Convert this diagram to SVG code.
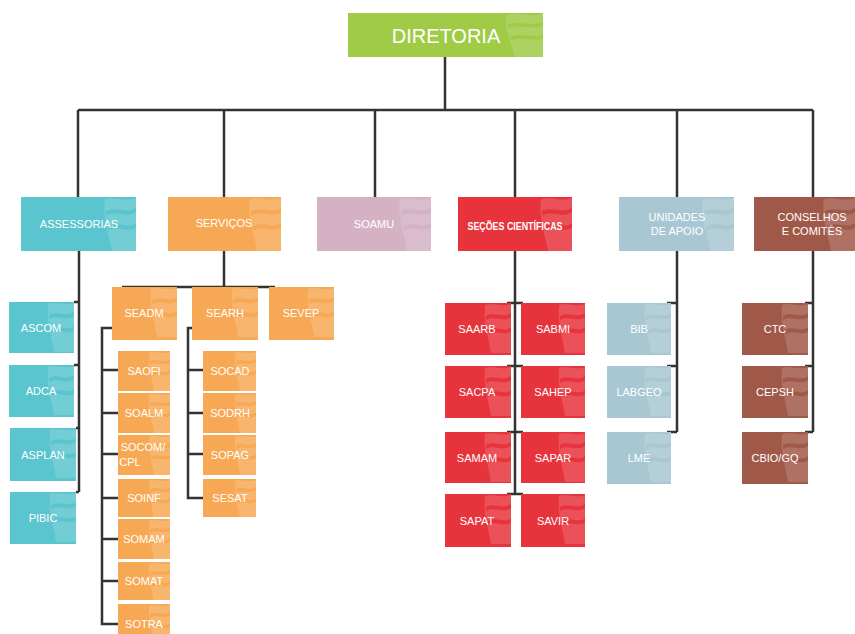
<svg xmlns="http://www.w3.org/2000/svg" xmlns:xlink="http://www.w3.org/1999/xlink" width="855" height="634" viewBox="0 0 855 634">
<style>
.t{font-family:"Liberation Sans","DejaVu Sans",sans-serif;font-size:11px;fill:#fff;text-anchor:middle;dominant-baseline:central}
.big{font-size:20px}
.ln{stroke:#333;stroke-width:2.5;fill:none}
.w{fill:#fff;opacity:0.15;fill-rule:evenodd}
.teal{fill:#5ac5ce}.org{fill:#f7a854}.mau{fill:#d4b2c3}.red{fill:#e7333b}.lb{fill:#a8c7d3}.br{fill:#a05949}.gr{fill:#9fcb46}
</style>
<defs>
<path id="wave" d="M-26 2 C-18 -1 -9 5 0 1 L0 50 L-20 50 C-22 36 -28 20 -26 2 Z M-25 13 C-16 8 -8 16 0 10 L0 14 C-8 20 -16 12 -25 17 Z M-23 27 C-14 22 -6 30 0 24 L0 28 C-6 34 -14 26 -23 31 Z"/>
</defs>
<g id="connectors">
<path class="ln" d="M445 57V110M78 110H813M78 110V197M224 110V197M375 110V197M515 110V197M677 110V197M813 110V197"/>
<path class="ln" d="M79 251V492M74 302H79M74 365H79M76 428H79M76 492H79"/>
<path class="ln" d="M224 251V287M122 287H275"/>
<path class="ln" d="M112 328H102V624H118M102 370H118M102 413H118M102 454H118M102 498H118M102 539H118M102 581H118"/>
<path class="ln" d="M192 328H188V498H203M188 370H203M188 413H203M188 454H203"/>
<path class="ln" d="M515 251V494M507 303H523M507 366H523M507 432H523M507 494H523"/>
<path class="ln" d="M677 251V432M667 303H677M667 366H677M667 432H677"/>
<path class="ln" d="M813 251V432M805 303H813M805 366H813M805 432H813"/>
</g>
<g id="diretoria"><rect class="gr" x="348" y="13" width="195" height="44"/><use href="#wave" class="w" transform="translate(543,13) scale(1.4,0.88)"/><text class="t big" x="446" y="36">DIRETORIA</text></g>
<g id="assessorias"><rect class="teal" x="21" y="197" width="115" height="54"/><use href="#wave" class="w" transform="translate(136,197) scale(1.2,1.08)"/><text class="t" x="79" y="224">ASSESSORIAS</text></g>
<g id="servicos"><rect class="org" x="168" y="197" width="113" height="54"/><use href="#wave" class="w" transform="translate(281,197) scale(1.2,1.08)"/><text class="t" x="224" y="223">SERVIÇOS</text></g>
<g id="soamu"><rect class="mau" x="317" y="197" width="114" height="54"/><use href="#wave" class="w" transform="translate(431,197) scale(1.2,1.08)"/><text class="t" x="374" y="224">SOAMU</text></g>
<g id="secoes"><rect class="red" x="458" y="197" width="114" height="54"/><use href="#wave" class="w" transform="translate(572,197) scale(1.2,1.08)"/><text class="t" x="515" y="226" font-weight="bold" textLength="95" lengthAdjust="spacingAndGlyphs">SEÇÕES CIENTÍFICAS</text></g>
<g id="unidades"><rect class="lb" x="619" y="197" width="115" height="54"/><use href="#wave" class="w" transform="translate(734,197) scale(1.2,1.08)"/><text class="t" x="677" y="217">UNIDADES</text><text class="t" x="677" y="231">DE APOIO</text></g>
<g id="conselhos"><rect class="br" x="754" y="197" width="101" height="54"/><use href="#wave" class="w" transform="translate(855,197) scale(1.2,1.08)"/><text class="t" x="812" y="217">CONSELHOS</text><text class="t" x="812" y="231">E COMITÊS</text></g>
<g id="ascom"><rect class="teal" x="9" y="302" width="65" height="51"/><use href="#wave" class="w" transform="translate(74,302)"/><text class="t" x="41" y="328">ASCOM</text></g>
<g id="adca"><rect class="teal" x="9" y="365" width="65" height="52"/><use href="#wave" class="w" transform="translate(74,365)"/><text class="t" x="41" y="391">ADCA</text></g>
<g id="asplan"><rect class="teal" x="10" y="428" width="66" height="53"/><use href="#wave" class="w" transform="translate(76,428)"/><text class="t" x="43" y="455">ASPLAN</text></g>
<g id="pibic"><rect class="teal" x="10" y="492" width="66" height="52"/><use href="#wave" class="w" transform="translate(76,492)"/><text class="t" x="43" y="518">PIBIC</text></g>
<g id="seadm"><rect class="org" x="112" y="287" width="65" height="53"/><use href="#wave" class="w" transform="translate(177,287)"/><text class="t" x="144" y="313">SEADM</text></g>
<g id="searh"><rect class="org" x="192" y="287" width="66" height="53"/><use href="#wave" class="w" transform="translate(258,287)"/><text class="t" x="225" y="313">SEARH</text></g>
<g id="sevep"><rect class="org" x="269" y="287" width="65" height="53"/><use href="#wave" class="w" transform="translate(334,287)"/><text class="t" x="301" y="313">SEVEP</text></g>
<g id="saofi"><rect class="org" x="118" y="351" width="52" height="40"/><use href="#wave" class="w" transform="translate(170,351) scale(0.8)"/><text class="t" x="144" y="371">SAOFI</text></g>
<g id="soalm"><rect class="org" x="118" y="393" width="52" height="40"/><use href="#wave" class="w" transform="translate(170,393) scale(0.8)"/><text class="t" x="144" y="413">SOALM</text></g>
<g id="socom"><rect class="org" x="118" y="435" width="52" height="40"/><use href="#wave" class="w" transform="translate(170,435) scale(0.8)"/><text class="t" x="143" y="447" font-size="10.5">SOCOM/</text><text class="t" x="130" y="462" font-size="10.5">CPL</text></g>
<g id="soinf"><rect class="org" x="118" y="479" width="52" height="38"/><use href="#wave" class="w" transform="translate(170,479) scale(0.8)"/><text class="t" x="144" y="498">SOINF</text></g>
<g id="somam"><rect class="org" x="118" y="519" width="52" height="40"/><use href="#wave" class="w" transform="translate(170,519) scale(0.8)"/><text class="t" x="144" y="539">SOMAM</text></g>
<g id="somat"><rect class="org" x="118" y="562" width="52" height="38"/><use href="#wave" class="w" transform="translate(170,562) scale(0.8)"/><text class="t" x="144" y="581">SOMAT</text></g>
<g id="sotra"><rect class="org" x="118" y="604" width="52" height="32"/><use href="#wave" class="w" transform="translate(170,604) scale(0.8)"/><text class="t" x="144" y="624">SOTRA</text></g>
<g id="socad"><rect class="org" x="203" y="351" width="53" height="40"/><use href="#wave" class="w" transform="translate(256,351) scale(0.8)"/><text class="t" x="230" y="371">SOCAD</text></g>
<g id="sodrh"><rect class="org" x="203" y="393" width="53" height="40"/><use href="#wave" class="w" transform="translate(256,393) scale(0.8)"/><text class="t" x="230" y="413">SODRH</text></g>
<g id="sopag"><rect class="org" x="203" y="435" width="53" height="40"/><use href="#wave" class="w" transform="translate(256,435) scale(0.8)"/><text class="t" x="230" y="455">SOPAG</text></g>
<g id="sesat"><rect class="org" x="203" y="479" width="53" height="38"/><use href="#wave" class="w" transform="translate(256,479) scale(0.8)"/><text class="t" x="230" y="498">SESAT</text></g>
<g id="saarb"><rect class="red" x="445" y="303" width="66" height="52"/><use href="#wave" class="w" transform="translate(511,303)"/><text class="t" x="477" y="329">SAARB</text></g>
<g id="sabmi"><rect class="red" x="521" y="303" width="64" height="52"/><use href="#wave" class="w" transform="translate(585,303)"/><text class="t" x="553" y="329">SABMI</text></g>
<g id="sacpa"><rect class="red" x="445" y="366" width="66" height="52"/><use href="#wave" class="w" transform="translate(511,366)"/><text class="t" x="477" y="392">SACPA</text></g>
<g id="sahep"><rect class="red" x="521" y="366" width="64" height="52"/><use href="#wave" class="w" transform="translate(585,366)"/><text class="t" x="553" y="392">SAHEP</text></g>
<g id="samam"><rect class="red" x="445" y="432" width="66" height="51"/><use href="#wave" class="w" transform="translate(511,432)"/><text class="t" x="477" y="458">SAMAM</text></g>
<g id="sapar"><rect class="red" x="521" y="432" width="64" height="51"/><use href="#wave" class="w" transform="translate(585,432)"/><text class="t" x="553" y="458">SAPAR</text></g>
<g id="sapat"><rect class="red" x="445" y="494" width="66" height="53"/><use href="#wave" class="w" transform="translate(511,494)"/><text class="t" x="477" y="521">SAPAT</text></g>
<g id="savir"><rect class="red" x="521" y="494" width="64" height="53"/><use href="#wave" class="w" transform="translate(585,494)"/><text class="t" x="553" y="521">SAVIR</text></g>
<g id="bib"><rect class="lb" x="607" y="303" width="64" height="52"/><use href="#wave" class="w" transform="translate(671,303)"/><text class="t" x="639" y="329">BIB</text></g>
<g id="labgeo"><rect class="lb" x="607" y="366" width="64" height="52"/><use href="#wave" class="w" transform="translate(671,366)"/><text class="t" x="639" y="392">LABGEO</text></g>
<g id="lme"><rect class="lb" x="607" y="432" width="64" height="52"/><use href="#wave" class="w" transform="translate(671,432)"/><text class="t" x="639" y="458">LME</text></g>
<g id="ctc"><rect class="br" x="742" y="303" width="66" height="52"/><use href="#wave" class="w" transform="translate(808,303)"/><text class="t" x="775" y="329">CTC</text></g>
<g id="cepsh"><rect class="br" x="742" y="366" width="66" height="52"/><use href="#wave" class="w" transform="translate(808,366)"/><text class="t" x="775" y="392">CEPSH</text></g>
<g id="cbio"><rect class="br" x="742" y="432" width="66" height="52"/><use href="#wave" class="w" transform="translate(808,432)"/><text class="t" x="775" y="458">CBIO/GQ</text></g>
</svg>
